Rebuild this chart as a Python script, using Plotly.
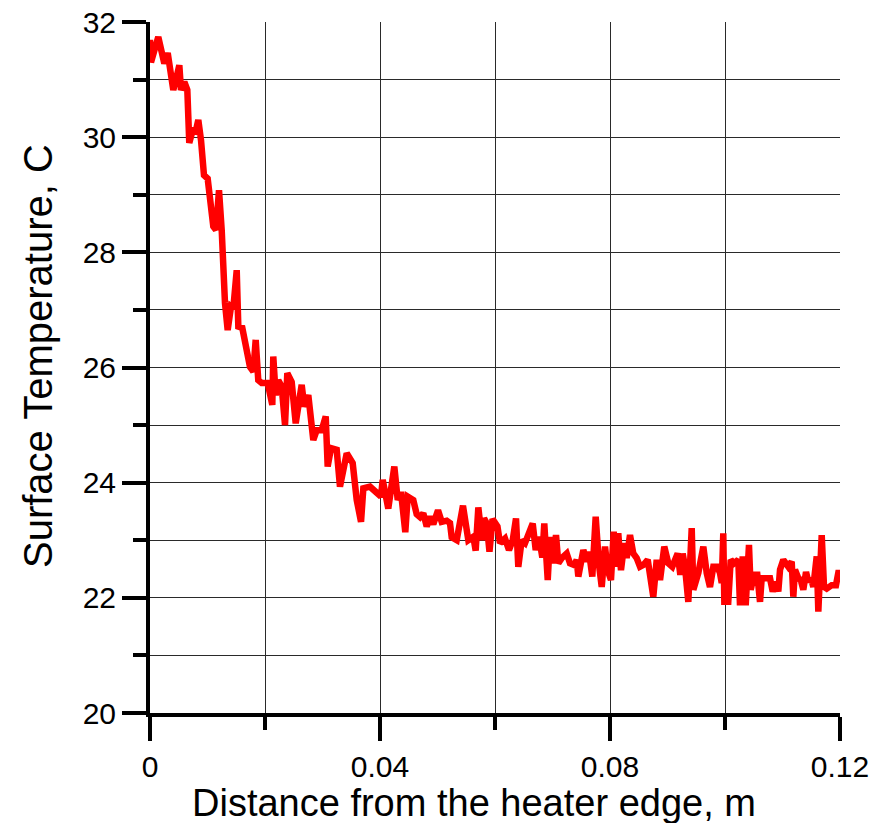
import plotly.graph_objects as go

# Distance from heater edge (m) and surface temperature (C)
distance_m = [
    0.00000, 0.00017, 0.00144, 0.00203, 0.00249, 0.00308, 0.00405, 0.00464, 0.00510, 0.00539,
    0.00597, 0.00649, 0.00683, 0.00743, 0.00795, 0.00840, 0.00887, 0.00939, 0.01003, 0.01101,
    0.01148, 0.01200, 0.01247, 0.01304, 0.01351, 0.01409, 0.01449, 0.01508, 0.01536, 0.01605,
    0.01682, 0.01739, 0.01797, 0.01838, 0.01883, 0.01943, 0.02047, 0.02087, 0.02127, 0.02144,
    0.02186, 0.02231, 0.02290, 0.02348, 0.02388, 0.02464, 0.02534, 0.02638, 0.02683, 0.02753,
    0.02840, 0.02899, 0.02986, 0.03056, 0.03090, 0.03148, 0.03247, 0.03304, 0.03421, 0.03525,
    0.03595, 0.03670, 0.03710, 0.03826, 0.03943, 0.04017, 0.04047, 0.04144, 0.04249, 0.04308,
    0.04365, 0.04440, 0.04482, 0.04579, 0.04638, 0.04696, 0.04753, 0.04812, 0.04870, 0.04927,
    0.05009, 0.05073, 0.05160, 0.05217, 0.05247, 0.05334, 0.05443, 0.05536, 0.05623, 0.05664,
    0.05710, 0.05774, 0.05809, 0.05856, 0.05904, 0.05957, 0.06043, 0.06087, 0.06174, 0.06243,
    0.06308, 0.06365, 0.06405, 0.06464, 0.06522, 0.06597, 0.06656, 0.06708, 0.06765, 0.06823,
    0.06857, 0.06917, 0.06957, 0.06997, 0.07061, 0.07101, 0.07160, 0.07247, 0.07304, 0.07379,
    0.07421, 0.07449, 0.07536, 0.07595, 0.07635, 0.07692, 0.07751, 0.07809, 0.07856, 0.07913,
    0.07960, 0.08017, 0.08064, 0.08104, 0.08144, 0.08191, 0.08249, 0.08290, 0.08348, 0.08405,
    0.08464, 0.08522, 0.08579, 0.08656, 0.08696, 0.08753, 0.08812, 0.08870, 0.08944, 0.09014,
    0.09083, 0.09177, 0.09223, 0.09264, 0.09304, 0.09362, 0.09421, 0.09449, 0.09536, 0.09623,
    0.09682, 0.09739, 0.09797, 0.09866, 0.09913, 0.09943, 0.09970, 0.09988, 0.10057, 0.10099,
    0.10157, 0.10231, 0.10261, 0.10308, 0.10360, 0.10417, 0.10447, 0.10504, 0.10562, 0.10609,
    0.10638, 0.10725, 0.10783, 0.10830, 0.10887, 0.10927, 0.10957, 0.11014, 0.11101, 0.11160,
    0.11188, 0.11217, 0.11275, 0.11317, 0.11362, 0.11409, 0.11449, 0.11496, 0.11536, 0.11595,
    0.11623, 0.11682, 0.11722, 0.11769, 0.11856, 0.11930, 0.11970, 0.12000,
]

temperature_c = [
    31.69, 31.30, 31.74, 31.40, 31.28, 31.46, 30.82, 31.05, 31.25, 30.82,
    30.96, 30.82, 29.90, 30.12, 30.10, 30.30, 29.95, 29.34, 29.28, 28.45,
    28.39, 29.08, 28.39, 27.12, 26.65, 27.06, 27.03, 27.69, 26.71, 26.69,
    26.36, 26.01, 25.93, 26.48, 25.78, 25.73, 25.73, 25.55, 25.35, 26.19,
    25.52, 25.78, 25.67, 25.00, 25.90, 25.75, 25.03, 25.70, 25.32, 25.52,
    24.74, 24.91, 24.91, 25.15, 24.28, 24.60, 24.57, 23.93, 24.51, 24.34,
    23.70, 23.32, 23.90, 23.93, 23.84, 23.76, 24.05, 23.55, 24.28, 23.70,
    23.84, 23.14, 23.76, 23.70, 23.45, 23.40, 23.47, 23.24, 23.41, 23.28,
    23.52, 23.32, 23.34, 23.30, 23.05, 23.00, 23.60, 23.00, 23.06, 22.82,
    23.57, 23.00, 23.38, 23.29, 22.80, 23.37, 23.24, 22.95, 23.03, 22.83,
    23.00, 23.38, 22.54, 23.00, 22.95, 23.15, 23.29, 22.83, 23.06, 22.70,
    23.29, 22.31, 23.06, 22.60, 23.09, 22.60, 22.69, 22.77, 22.60, 22.57,
    22.66, 22.37, 22.83, 22.63, 22.80, 22.37, 23.41, 22.57, 22.19, 22.89,
    22.48, 22.31, 23.15, 22.54, 23.12, 22.48, 22.95, 22.69, 23.09, 22.77,
    22.69, 22.54, 22.57, 22.66, 22.37, 22.02, 22.66, 22.31, 22.89, 22.60,
    22.54, 22.77, 22.40, 22.77, 22.54, 21.93, 23.21, 22.14, 22.43, 22.89,
    22.43, 22.19, 22.54, 22.54, 22.43, 22.26, 23.12, 21.93, 21.93, 22.66,
    22.60, 22.66, 21.87, 22.72, 21.87, 22.92, 22.14, 22.40, 22.40, 21.93,
    22.34, 22.34, 22.34, 22.11, 22.28, 22.11, 22.49, 22.66, 22.54, 22.63,
    22.02, 22.49, 22.34, 22.31, 22.14, 22.45, 22.28, 22.34, 22.19, 22.72,
    21.76, 23.09, 22.19, 22.16, 22.22, 22.22, 22.43, 22.43,
]

x_tick_values = [0, 0.04, 0.08, 0.12]
x_tick_labels = ["0", "0.04", "0.08", "0.12"]
y_tick_values = [20, 22, 24, 26, 28, 30, 32]
y_tick_labels = ["20", "22", "24", "26", "28", "30", "32"]
x_title = "Distance from the heater edge, m"
y_title = "Surface Temperature, C"

FONT = "Liberation Sans, Arial, sans-serif"
GRID = "#2a2a2a"

fig = go.Figure()
fig.add_trace(go.Scatter(
    x=distance_m, y=temperature_c, mode="lines",
    line=dict(color="#ff0000", width=6.5), showlegend=False,
))

fig.update_layout(
    width=883, height=823,
    margin=dict(l=150, r=43, t=22, b=110),
    paper_bgcolor="white", plot_bgcolor="white",
    font=dict(family=FONT, color="black"),
    xaxis=dict(
        range=[0, 0.12], tickvals=x_tick_values, ticktext=x_tick_labels,
        automargin=False,
        ticks="outside", ticklen=24, tickwidth=4, tickcolor="black",
        showline=True, linecolor="black", linewidth=4,
        showgrid=True, gridcolor=GRID, gridwidth=1, zeroline=False,
        tickfont=dict(size=30, family=FONT, color="black"),
        minor=dict(dtick=0.02, tick0=0, ticks="outside", ticklen=13, tickwidth=4,
                   tickcolor="black", showgrid=True, gridcolor=GRID, gridwidth=1),
    ),
    yaxis=dict(
        range=[20, 32], tickvals=y_tick_values, ticktext=y_tick_labels,
        automargin=False,
        ticks="outside", ticklen=24, tickwidth=4, tickcolor="black",
        showline=True, linecolor="black", linewidth=4,
        showgrid=True, gridcolor=GRID, gridwidth=1, zeroline=False,
        tickfont=dict(size=30, family=FONT, color="black"),
        minor=dict(dtick=1, tick0=20, ticks="outside", ticklen=13, tickwidth=4,
                   tickcolor="black", showgrid=True, gridcolor=GRID, gridwidth=1),
    ),
    annotations=[
        dict(text=x_title, xref="paper", yref="paper", x=0.4696, y=-0.130,
             xanchor="center", yanchor="middle", showarrow=False,
             font=dict(size=38, family=FONT, color="black")),
        dict(text=y_title, xref="paper", yref="paper", x=-0.1623, y=0.5166,
             xanchor="center", yanchor="middle", showarrow=False, textangle=-90,
             font=dict(size=40, family=FONT, color="black")),
    ],
)

fig.write_html("out.html")
